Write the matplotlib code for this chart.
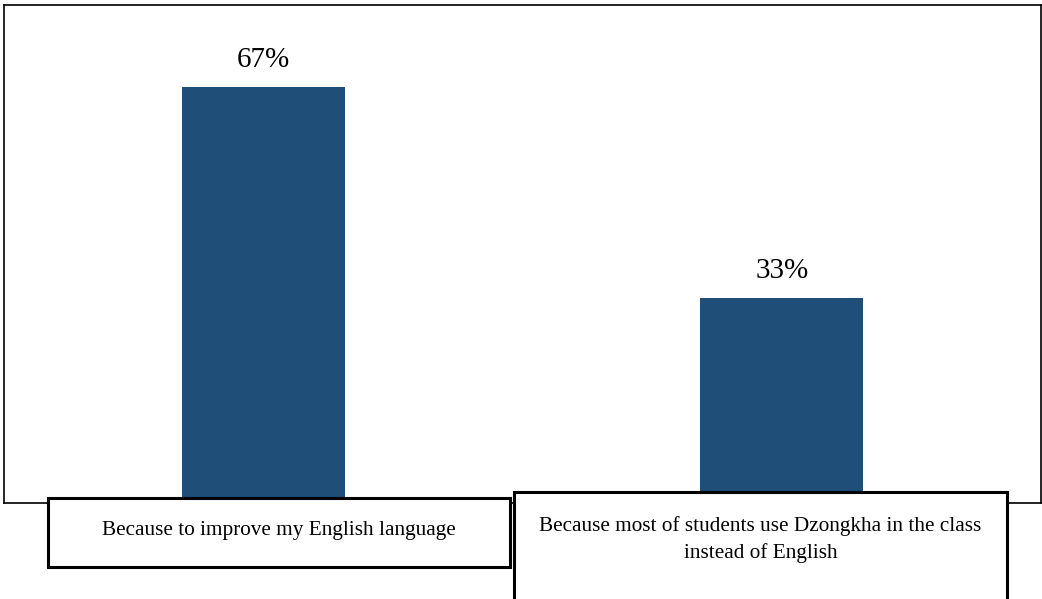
import matplotlib
matplotlib.use("Agg")
import matplotlib.pyplot as plt
from matplotlib.patches import Rectangle

# Survey responses: reason given and share of respondents (%)
reasons = [
    "Because to improve my English language",
    "Because most of students use Dzongkha in the class\ninstead of English",
]
shares = [67, 33]
value_labels = ["67%", "33%"]

BAR_COLOR = "#1F4E79"
W, H = 1042, 599

plt.rcParams["font.family"] = ["Liberation Serif", "DejaVu Serif"]

fig = plt.figure(figsize=(W / 100, H / 100), dpi=100)
fig.patch.set_facecolor("white")


def fx(px):
    return px / W


def fy(py):
    return 1 - py / H


# Framed plot area
ax = fig.add_axes([fx(4), fy(503), fx(1041) - fx(4), fy(5) - fy(503)])
x = list(range(len(shares)))
ax.bar(x, shares, width=0.314, color=BAR_COLOR, zorder=2, clip_on=False)
ax.set_xlim(-0.5, 1.5)
ax.set_ylim(0, 80.2)
ax.set_xticks([])
ax.set_yticks([])
for s in ax.spines.values():
    s.set_linewidth(1.2)
    s.set_color("black")

for xi, v, lab in zip(x, shares, value_labels):
    ax.annotate(lab, (xi, v), xytext=(0, 14.4), textcoords="offset points",
                ha="center", va="baseline", fontsize=21, color="black")

# Category label boxes overlapping the bottom of the frame
boxes = [
    (48, 498, 510, 567),
    (514, 492, 1007, 640),
]
baselines = [[535], [531, 558]]
for (l, t, r, b), text, bls in zip(boxes, reasons, baselines):
    rect = Rectangle((fx(l), fy(b)), fx(r) - fx(l), fy(t) - fy(b),
                     transform=fig.transFigure, facecolor="white",
                     edgecolor="black", linewidth=2.2, zorder=5,
                     clip_on=False)
    fig.add_artist(rect)
    for line, bl in zip(text.split("\n"), bls):
        fig.text(fx((l + r) / 2), fy(bl), line, ha="center", va="baseline",
                 fontsize=15.3, color="black", zorder=6)

fig.savefig("out.png", dpi=100)
